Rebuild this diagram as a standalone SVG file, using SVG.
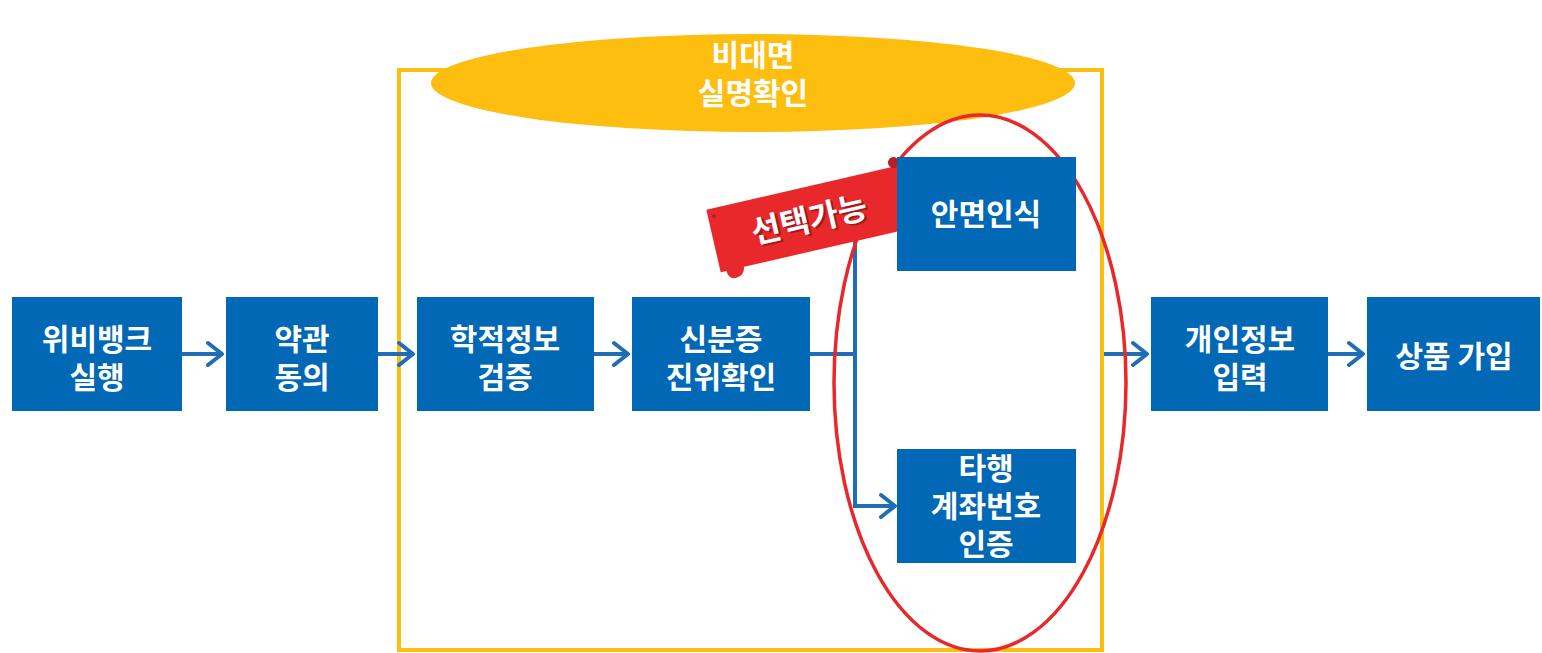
<svg xmlns="http://www.w3.org/2000/svg" width="1542" height="653" viewBox="0 0 1542 653">
<defs>
<style>
.box{fill:#0068B4;}
.t{font-family:"Noto Sans CJK KR","Noto Sans",sans-serif;font-size:30px;font-weight:bold;fill:#fff;text-anchor:middle;}
.e{font-family:"Noto Sans CJK KR","Noto Sans",sans-serif;font-size:30px;font-weight:bold;fill:#fff;text-anchor:middle;}
.c{stroke:#1E6DB5;stroke-width:4;fill:none;}
.ah{stroke:#1E6DB5;stroke-width:4;fill:none;stroke-linecap:round;stroke-linejoin:round;}
</style>
</defs>
<rect x="399" y="70" width="703" height="580" fill="none" stroke="#FDBE10" stroke-width="4"/>
<g id="header">
<ellipse cx="753" cy="83" rx="322" ry="49" fill="#FDBE10"/>
<text class="e" x="753" y="66">비대면</text>
<text class="e" x="753" y="104">실명확인</text>
</g>
<g id="connectors">
<path class="c" d="M182 354H222M378 354H413M594 354H628M1104 354H1147M1328 354H1363"/>
<path class="ah" d="M208 343L222 354L208 365M399 343L413 354L399 365M614 343L628 354L614 365M1133 343L1147 354L1133 365M1349 343L1363 354L1349 365"/>
<path class="c" d="M810 354H855M855 240V506H895"/>
<path class="ah" d="M881 495L895 506L881 517"/>
</g>
<ellipse cx="980" cy="383" rx="146" ry="268" fill="none" stroke="#E8282A" stroke-width="3.5"/>
<g id="tag" transform="translate(809 219) rotate(-13)">
<path d="M-98 -32H98V32H-74Q-76 41 -84 41Q-92 41 -92 32H-98Z" fill="#E8282A"/>
<circle cx="-92" cy="-24" r="2" fill="#B81E22"/>
<circle cx="95" cy="-36" r="5.5" fill="#B81E22"/>
<text x="2" y="14" font-family="'Noto Sans CJK KR',sans-serif" font-size="32" font-weight="bold" fill="#7a1010" text-anchor="middle" opacity="0.6">선택가능</text>
<text x="0" y="12" font-family="'Noto Sans CJK KR',sans-serif" font-size="32" font-weight="bold" fill="#fff" text-anchor="middle">선택가능</text>
</g>
<g id="n1"><rect class="box" x="12" y="297" width="170" height="114"/><text class="t" x="97" y="350">위비뱅크</text><text class="t" x="97" y="388">실행</text></g>
<g id="n2"><rect class="box" x="226" y="297" width="152" height="114"/><text class="t" x="302" y="350">약관</text><text class="t" x="302" y="388">동의</text></g>
<g id="n3"><rect class="box" x="417" y="297" width="177" height="114"/><text class="t" x="505" y="350">학적정보</text><text class="t" x="505" y="388">검증</text></g>
<g id="n4"><rect class="box" x="632" y="297" width="178" height="114"/><text class="t" x="721" y="350">신분증</text><text class="t" x="721" y="388">진위확인</text></g>
<g id="n5"><rect class="box" x="897" y="157" width="179" height="114"/><text class="t" x="986" y="225">안면인식</text></g>
<g id="n6"><rect class="box" x="897" y="449" width="179" height="114"/><text class="t" x="986" y="479">타행</text><text class="t" x="986" y="517">계좌번호</text><text class="t" x="986" y="555">인증</text></g>
<g id="n7"><rect class="box" x="1151" y="297" width="177" height="114"/><text class="t" x="1240" y="350">개인정보</text><text class="t" x="1240" y="388">입력</text></g>
<g id="n8"><rect class="box" x="1367" y="297" width="173" height="114"/><text class="t" x="1454" y="367">상품 가입</text></g>
</svg>
